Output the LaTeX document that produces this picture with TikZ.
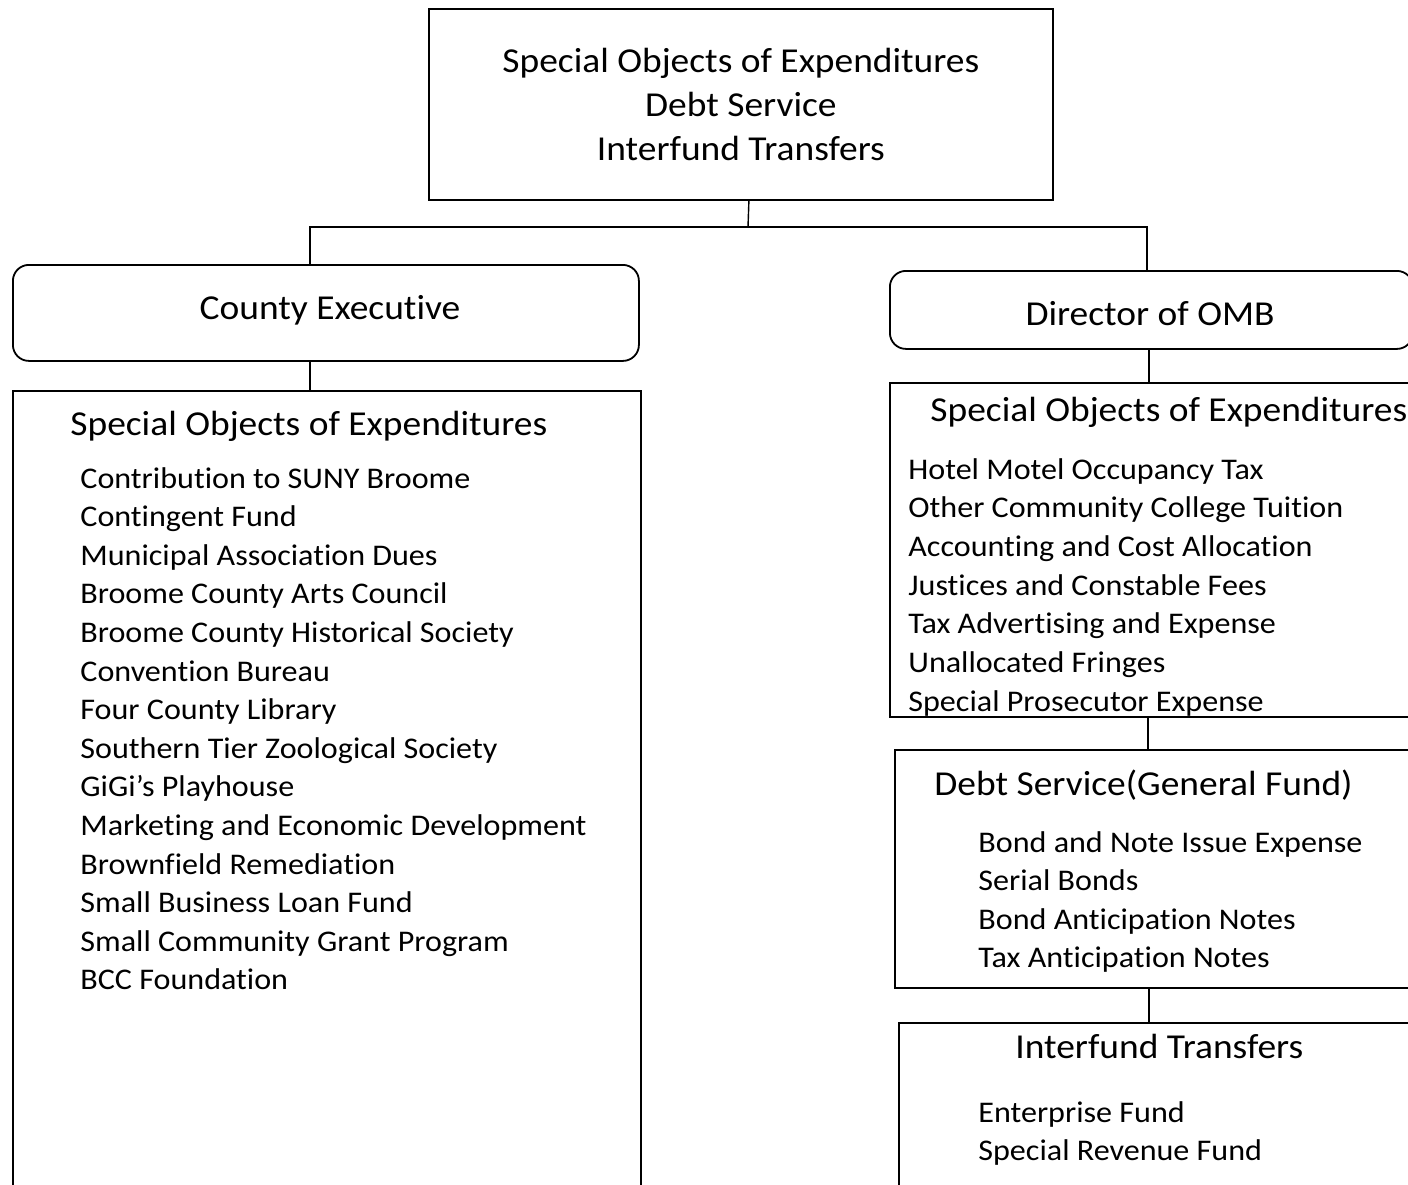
\documentclass[tikz,border=0pt]{standalone}
\usepackage{fontspec}
\setmainfont{Carlito}[Ligatures=CommonOff, FakeStretch=1.07]
\usetikzlibrary{positioning}

\tikzset{
    box/.style={draw, line width=0.9pt, anchor=north west, inner sep=0pt},
    head/.style={font=\fontsize{17.5}{22}\selectfont, inner sep=0pt},
    item/.style={font=\fontsize{15}{18}\selectfont, anchor=base west, inner sep=0pt},
    link/.style={line width=0.7pt},
}

\begin{document}
\begin{tikzpicture}[x=0.5pt, y=-0.5pt]
    \useasboundingbox (0,0) rectangle (1408,1184);
    \clip (0,0) rectangle (1408,1184);

    % top of the tree
    \node[box, minimum width=312pt, minimum height=95.5pt, align=center, head] (top) at (428,8)
        {Special Objects of Expenditures\\Debt Service\\Interfund Transfers};

    % county executive side
    \node[box, rounded corners=8pt, minimum width=313pt, minimum height=48pt] (ce) at (12,264) {};
    \node[head, anchor=base] (cename) at (330,319) {County Executive};
    \node[box, minimum width=314pt, minimum height=440pt] (cesoe) at (12,390) {};
    \node[head, anchor=base west] (cesoehead) at (70,435) {Special Objects of Expenditures};
    \foreach \t [count=\i from 0] in {Contribution to SUNY Broome, Contingent Fund,
        Municipal Association Dues, Broome County Arts Council,
        Broome County Historical Society, Convention Bureau, Four County Library,
        Southern Tier Zoological Society, GiGi’s Playhouse,
        Marketing and Economic Development, Brownfield Remediation,
        Small Business Loan Fund, Small Community Grant Program, BCC Foundation}
        \node[item] (ceitem\i) at (80,488+38.6*\i) {\t};

    % director of OMB side
    \node[box, rounded corners=8pt, minimum width=261.5pt, minimum height=39pt] (omb) at (889,270) {};
    \node[head, anchor=base] (ombname) at (1150,325) {Director of OMB};
    \node[box, minimum width=261.5pt, minimum height=167pt] (ombsoe) at (889,382) {};
    \node[head, anchor=base west] (ombsoehead) at (930,421) {Special Objects of Expenditures};
    \foreach \t [count=\i from 0] in {Hotel Motel Occupancy Tax,
        Other Community College Tuition, Accounting and Cost Allocation,
        Justices and Constable Fees, Tax Advertising and Expense,
        Unallocated Fringes, Special Prosecutor Expense}
        \node[item] (ombitem\i) at (908,479+38.7*\i) {\t};

    \node[box, minimum width=259pt, minimum height=119pt] (debt) at (894,749) {};
    \node[head, anchor=base west] (debthead) at (934,795) {Debt Service(General Fund)};
    \foreach \t [count=\i from 0] in {Bond and Note Issue Expense, Serial Bonds,
        Bond Anticipation Notes, Tax Anticipation Notes}
        \node[item] (debtitem\i) at (978,852+38.6*\i) {\t};

    \node[box, minimum width=257pt, minimum height=130pt] (xfer) at (898,1022) {};
    \node[head, anchor=base west] (xferhead) at (1015,1058) {Interfund Transfers};
    \foreach \t [count=\i from 0] in {Enterprise Fund, Special Revenue Fund}
        \node[item] (xferitem\i) at (978,1122+38.6*\i) {\t};

    % connectors
    \coordinate (bus) at (748,227);
    \draw[link] ([xshift=4pt]top.south) -- (bus);
    \draw[link] ([xshift=-8pt]ce.north) |- (bus) -| ([xshift=-2.25pt]omb.north);
    \draw[link] ([xshift=-8pt]ce.south) -- ([xshift=-8pt]ce.south |- cesoe.north);
    \draw[link] ([xshift=-1.25pt]omb.south) -- ([xshift=-1.25pt]omb.south |- ombsoe.north);
    \draw[link] ([xshift=-1.75pt]ombsoe.south) -- ([xshift=-1.75pt]ombsoe.south |- debt.north);
    \draw[link] ([xshift=-2.5pt]debt.south) -- ([xshift=-2.5pt]debt.south |- xfer.north);
\end{tikzpicture}
\end{document}
